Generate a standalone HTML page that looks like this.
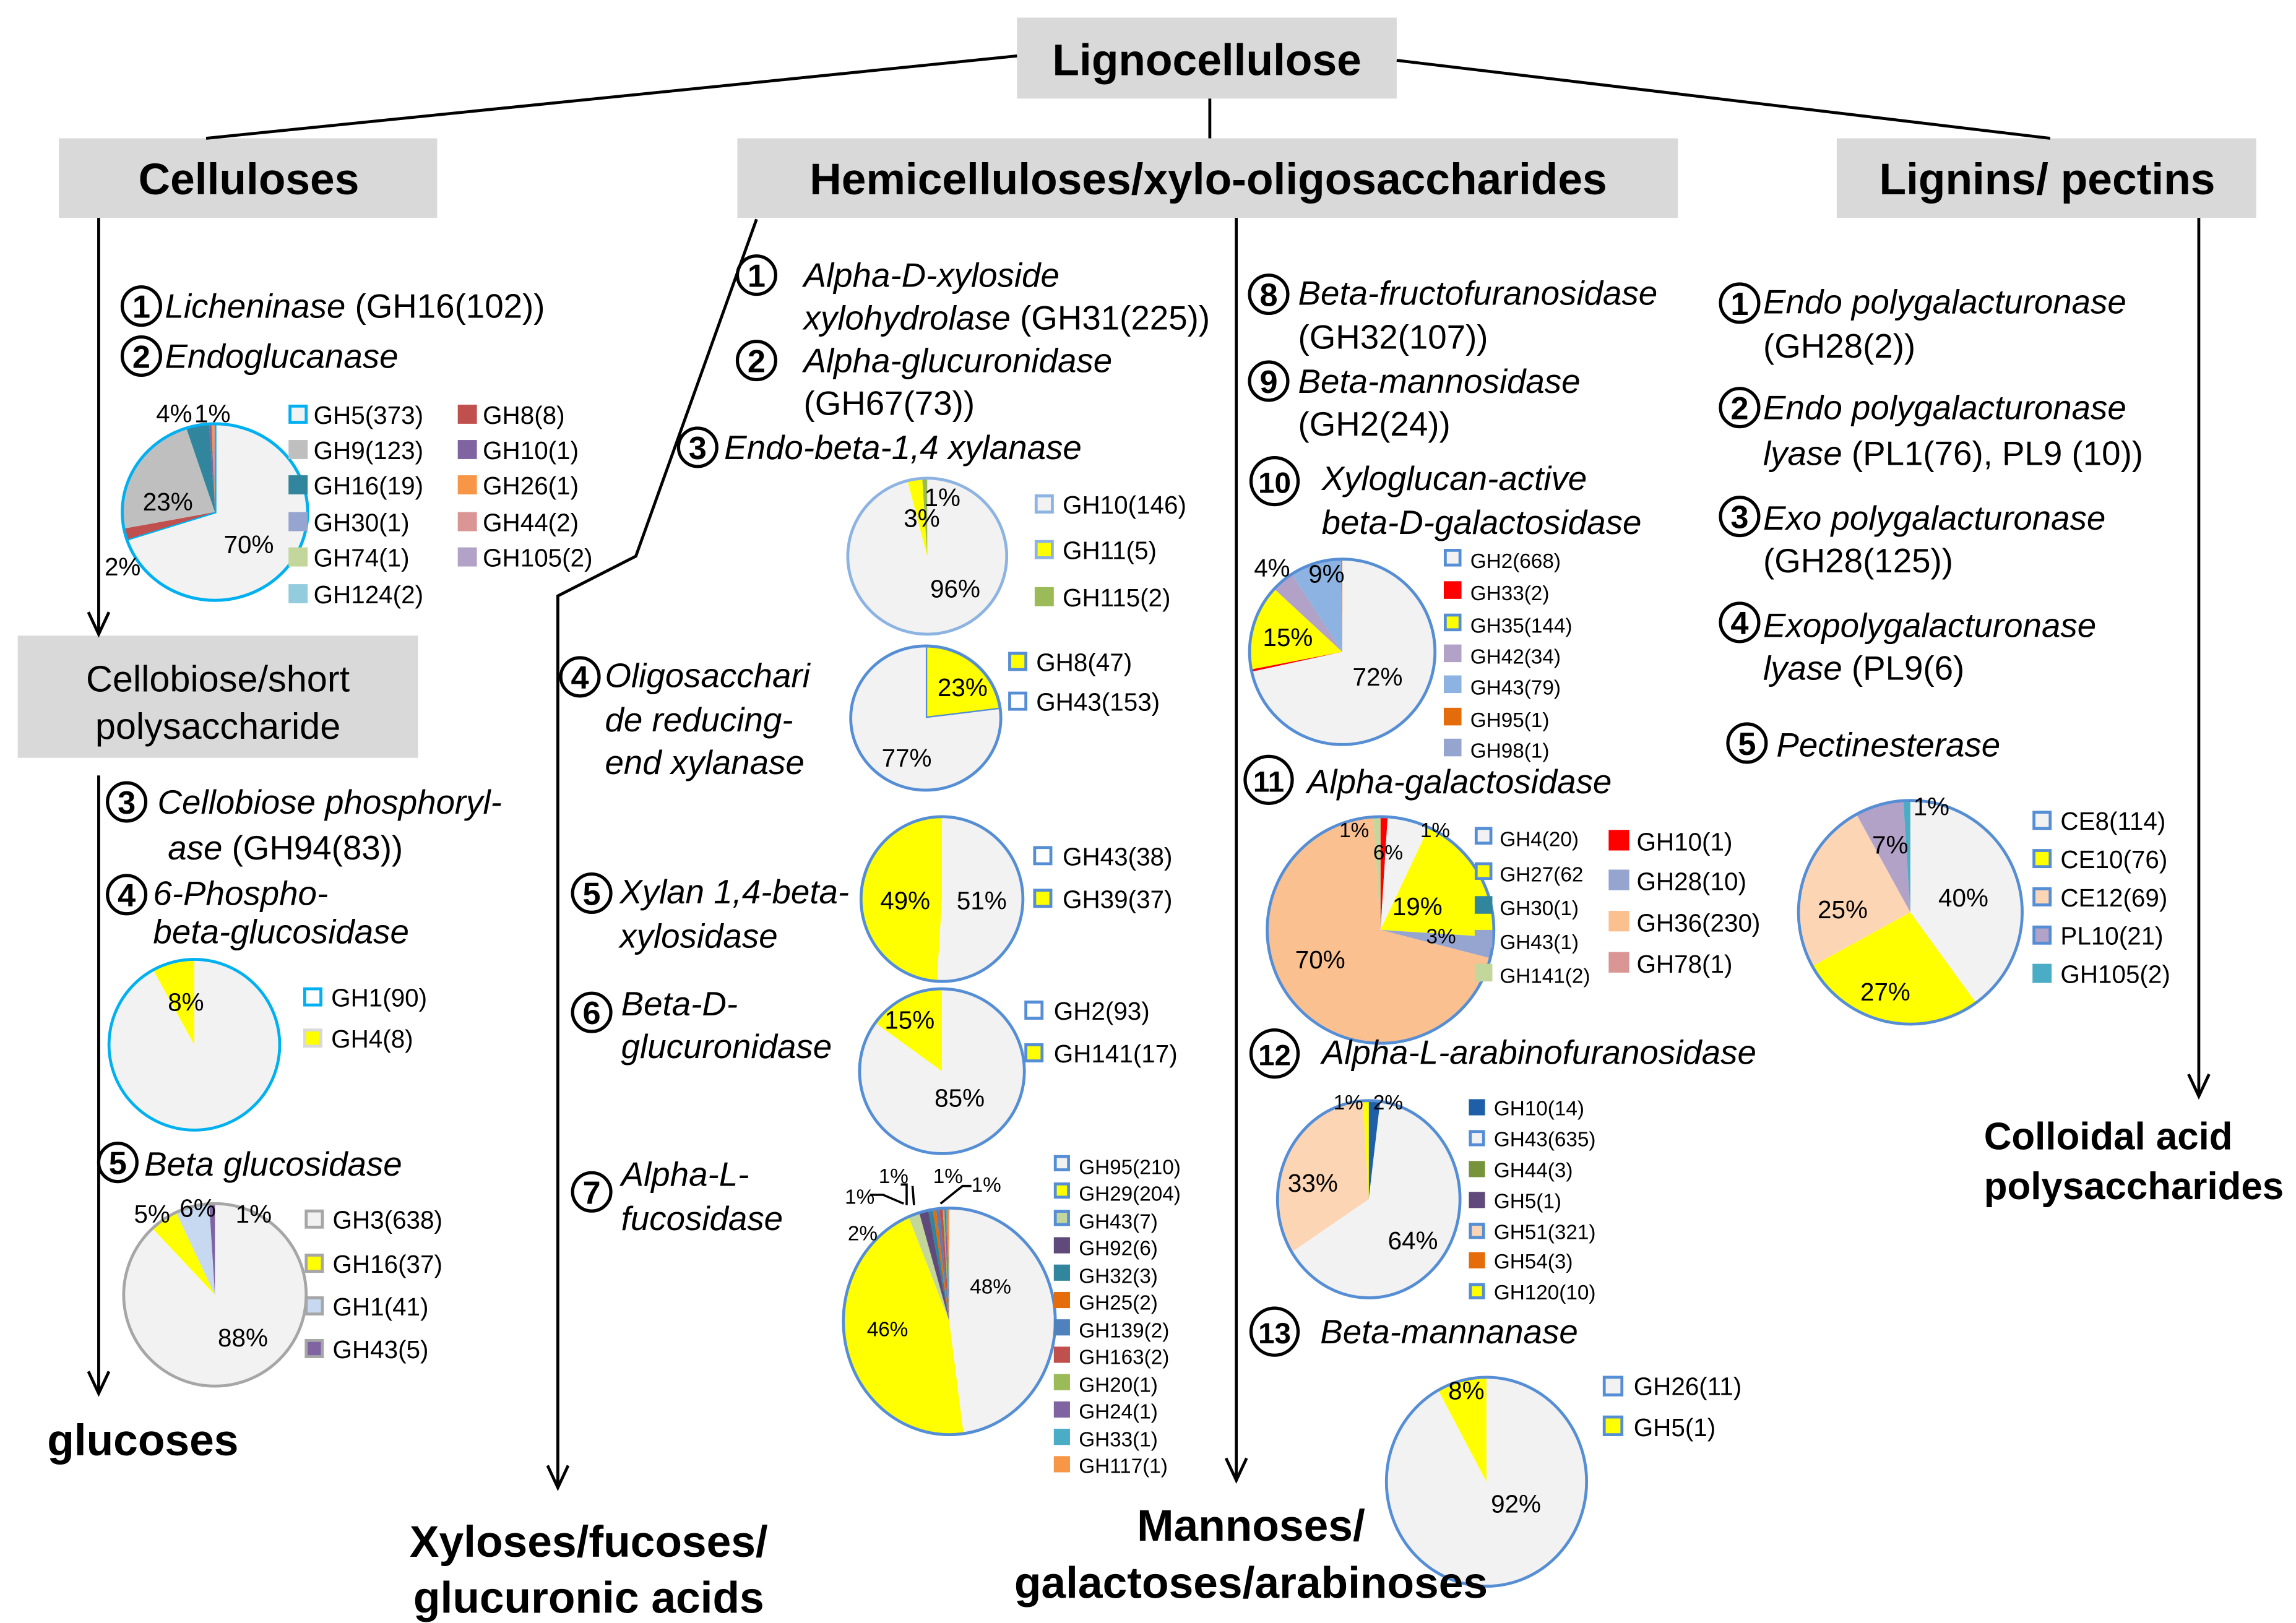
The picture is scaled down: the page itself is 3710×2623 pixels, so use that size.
<!DOCTYPE html>
<html><head><meta charset="utf-8"><style>
html,body{margin:0;padding:0;background:#fff}
svg{display:block}
text{font-family:"Liberation Sans Narrow","Liberation Sans",sans-serif;fill:#000}
.h{font-weight:bold;font-size:30px;font-family:"Liberation Sans",sans-serif}
.i{font-style:italic;font-size:23px}
.n{font-size:23px}
.l{font-size:17px}
.s{font-size:14px}
.p{font-size:17px}
.c{font-weight:bold;font-size:22px;font-family:"Liberation Sans",sans-serif}
</style></head><body>
<svg id="sv" width="3710" height="2623" viewBox="0 0 1560 1103" xmlns="http://www.w3.org/2000/svg">
<g id="pies"></g>
<!-- boxes -->
<rect x="691" y="12" width="258" height="55" fill="#d9d9d9"/>
<rect x="40" y="94" width="257" height="54" fill="#d9d9d9"/>
<rect x="501" y="94" width="639" height="54" fill="#d9d9d9"/>
<rect x="1248" y="94" width="285" height="54" fill="#d9d9d9"/>
<rect x="12" y="432" width="272" height="83" fill="#d9d9d9"/>
<text class="h" x="820" y="51" text-anchor="middle">Lignocellulose</text>
<text class="h" x="169" y="132" text-anchor="middle">Celluloses</text>
<text class="h" x="821" y="132" text-anchor="middle">Hemicelluloses/xylo-oligosaccharides</text>
<text class="h" x="1391" y="132" text-anchor="middle">Lignins/ pectins</text>
<text x="148" y="470" text-anchor="middle" style="font-size:25px">Cellobiose/short</text>
<text x="148" y="502" text-anchor="middle" style="font-size:25px">polysaccharide</text>
<!-- lines -->
<g stroke="#000" stroke-width="2" fill="none">
<line x1="691" y1="38" x2="140" y2="94"/>
<line x1="949" y1="41" x2="1393" y2="94"/>
<line x1="822" y1="67" x2="822" y2="94"/>
<line x1="67" y1="148" x2="67" y2="430"/><polyline points="60,416 67,431 74,416"/>
<line x1="67" y1="527" x2="67" y2="946"/><polyline points="60,932 67,947 74,932"/>
<polyline points="514,149 432,378 379,405 379,1010"/><polyline points="372,996 379,1011 386,996"/>
<line x1="840" y1="148" x2="840" y2="1005"/><polyline points="833,991 840,1006 847,991"/>
<line x1="1494" y1="148" x2="1494" y2="744"/><polyline points="1487,730 1494,745 1501,730"/>
</g>
<g id="circ" stroke="#000" stroke-width="2.2" fill="none"></g>
<g id="leg"></g>

<!-- Cellulose column -->
<text x="112" y="216"><tspan class="i">Licheninase</tspan><tspan class="n"> (GH16(102))</tspan></text>
<text class="i" x="112" y="250">Endoglucanase</text>
<text class="p" x="106" y="287">4%</text><text class="p" x="132" y="287">1%</text>
<text class="p" x="97" y="347">23%</text><text class="p" x="152" y="376">70%</text><text class="p" x="71" y="391">2%</text>
<text class="l" x="213" y="288">GH5(373)</text><text class="l" x="213" y="312">GH9(123)</text><text class="l" x="213" y="336">GH16(19)</text><text class="l" x="213" y="361">GH30(1)</text><text class="l" x="213" y="385">GH74(1)</text><text class="l" x="213" y="410">GH124(2)</text>
<text class="l" x="328" y="288">GH8(8)</text><text class="l" x="328" y="312">GH10(1)</text><text class="l" x="328" y="336">GH26(1)</text><text class="l" x="328" y="361">GH44(2)</text><text class="l" x="328" y="385">GH105(2)</text>
<text class="i" x="107" y="553">Cellobiose phosphoryl-</text>
<text x="114" y="584"><tspan class="i">ase</tspan><tspan class="n"> (GH94(83))</tspan></text>
<text class="i" x="104" y="615">6-Phospho-</text><text class="i" x="104" y="641">beta-glucosidase</text>
<text class="p" x="114" y="687">8%</text>
<text class="l" x="225" y="684">GH1(90)</text><text class="l" x="225" y="712">GH4(8)</text>
<text class="i" x="98" y="799">Beta glucosidase</text>
<text class="p" x="91" y="831">5%</text><text class="p" x="122" y="827">6%</text><text class="p" x="160" y="831">1%</text><text class="p" x="148" y="915">88%</text>
<text class="l" x="226" y="835">GH3(638)</text><text class="l" x="226" y="865">GH16(37)</text><text class="l" x="226" y="894">GH1(41)</text><text class="l" x="226" y="923">GH43(5)</text>
<text class="h" x="32" y="989">glucoses</text>

<!-- Hemi column -->
<text class="i" x="546" y="195">Alpha-D-xyloside</text>
<text x="546" y="224"><tspan class="i">xylohydrolase</tspan><tspan class="n">  (GH31(225))</tspan></text>
<text class="i" x="546" y="253">Alpha-glucuronidase</text>
<text class="n" x="546" y="282">(GH67(73))</text>
<text class="i" x="492" y="312">Endo-beta-1,4 xylanase</text>
<text class="p" x="628" y="344">1%</text><text class="p" x="614" y="358">3%</text><text class="p" x="632" y="406">96%</text>
<text class="l" x="722" y="349">GH10(146)</text><text class="l" x="722" y="380">GH11(5)</text><text class="l" x="722" y="412">GH115(2)</text>
<text class="i" x="411" y="467">Oligosacchari</text><text class="i" x="411" y="497">de reducing-</text><text class="i" x="411" y="526">end xylanase</text>
<text class="p" x="637" y="473">23%</text><text class="p" x="599" y="521">77%</text>
<text class="l" x="704" y="456">GH8(47)</text><text class="l" x="704" y="483">GH43(153)</text>
<text class="i" x="421" y="614">Xylan 1,4-beta-</text><text class="i" x="421" y="644">xylosidase</text>
<text class="p" x="598" y="618">49%</text><text class="p" x="650" y="618">51%</text>
<text class="l" x="722" y="588">GH43(38)</text><text class="l" x="722" y="617">GH39(37)</text>
<text class="i" x="422" y="690">Beta-D-</text><text class="i" x="422" y="719">glucuronidase</text>
<text class="p" x="601" y="699">15%</text><text class="p" x="635" y="752">85%</text>
<text class="l" x="716" y="693">GH2(93)</text><text class="l" x="716" y="722">GH141(17)</text>
<text class="i" x="422" y="806">Alpha-L-</text><text class="i" x="422" y="836">fucosidase</text>
<text class="s" x="574" y="818">1%</text><text class="s" x="597" y="804">1%</text><text class="s" x="634" y="804">1%</text><text class="s" x="660" y="810">1%</text><text class="s" x="576" y="843">2%</text>
<text class="s" x="589" y="908">46%</text><text class="s" x="659" y="879">48%</text>
<g stroke="#000" stroke-width="1.5" fill="none"><polyline points="591,812 600,812 614,818"/><polyline points="612,805 616,805 616,819"/><line x1="620" y1="806" x2="621" y2="819"/><polyline points="660,806 654,806 639,818"/></g>
<g class="s">
<text class="s" x="733" y="798">GH95(210)</text><text class="s" x="733" y="816">GH29(204)</text><text class="s" x="733" y="835">GH43(7)</text><text class="s" x="733" y="853">GH92(6)</text><text class="s" x="733" y="872">GH32(3)</text><text class="s" x="733" y="890">GH25(2)</text><text class="s" x="733" y="909">GH139(2)</text><text class="s" x="733" y="927">GH163(2)</text><text class="s" x="733" y="946">GH20(1)</text><text class="s" x="733" y="964">GH24(1)</text><text class="s" x="733" y="983">GH33(1)</text><text class="s" x="733" y="1001">GH117(1)</text>
</g>
<text class="h" x="400" y="1058" text-anchor="middle">Xyloses/fucoses/</text>
<text class="h" x="400" y="1096" text-anchor="middle">glucuronic acids</text>

<!-- Middle column -->
<text class="i" x="882" y="207">Beta-fructofuranosidase</text><text class="n" x="882" y="237">(GH32(107))</text>
<text class="i" x="882" y="267">Beta-mannosidase</text><text class="n" x="882" y="296">(GH2(24))</text>
<text class="i" x="898" y="333">Xyloglucan-active</text><text class="i" x="898" y="363">beta-D-galactosidase</text>
<text class="p" x="852" y="392">4%</text><text class="p" x="889" y="396">9%</text><text class="p" x="858" y="439">15%</text><text class="p" x="919" y="466">72%</text>
<text class="s" x="999" y="386">GH2(668)</text><text class="s" x="999" y="408">GH33(2)</text><text class="s" x="999" y="430">GH35(144)</text><text class="s" x="999" y="451">GH42(34)</text><text class="s" x="999" y="472">GH43(79)</text><text class="s" x="999" y="494">GH95(1)</text><text class="s" x="999" y="515">GH98(1)</text>
<text class="i" x="888" y="539">Alpha-galactosidase</text>
<text class="s" x="910" y="569">1%</text><text class="s" x="965" y="569">1%</text><text class="s" x="933" y="584">6%</text><text class="p" x="946" y="622">19%</text><text class="s" x="969" y="641">3%</text><text class="p" x="880" y="658">70%</text>
<text class="s" x="1019" y="575">GH4(20)</text><text class="s" x="1019" y="599">GH27(62</text><text class="s" x="1019" y="622">GH30(1)</text><text class="s" x="1019" y="645">GH43(1)</text><text class="s" x="1019" y="668">GH141(2)</text>
<text class="l" x="1112" y="578">GH10(1)</text><text class="l" x="1112" y="605">GH28(10)</text><text class="l" x="1112" y="633">GH36(230)</text><text class="l" x="1112" y="661">GH78(1)</text>
<text class="i" x="898" y="723">Alpha-L-arabinofuranosidase</text>
<text class="s" x="906" y="754">1%</text><text class="s" x="933" y="754">2%</text><text class="p" x="875" y="810">33%</text><text class="p" x="943" y="849">64%</text>
<text class="s" x="1015" y="758">GH10(14)</text><text class="s" x="1015" y="779">GH43(635)</text><text class="s" x="1015" y="800">GH44(3)</text><text class="s" x="1015" y="821">GH5(1)</text><text class="s" x="1015" y="842">GH51(321)</text><text class="s" x="1015" y="862">GH54(3)</text><text class="s" x="1015" y="883">GH120(10)</text>
<text class="i" x="897" y="913">Beta-mannanase</text>
<text class="p" x="984" y="951">8%</text><text class="p" x="1013" y="1028">92%</text>
<text class="l" x="1110" y="948">GH26(11)</text><text class="l" x="1110" y="976">GH5(1)</text>
<text class="h" x="850" y="1047" text-anchor="middle">Mannoses/</text>
<text class="h" x="850" y="1086" text-anchor="middle">galactoses/arabinoses</text>

<!-- Right column -->
<text class="i" x="1198" y="213">Endo polygalacturonase</text><text class="n" x="1198" y="243">(GH28(2))</text>
<text class="i" x="1198" y="285">Endo polygalacturonase</text>
<text x="1198" y="316"><tspan class="i">lyase</tspan><tspan class="n"> (PL1(76), PL9 (10))</tspan></text>
<text class="i" x="1198" y="360">Exo polygalacturonase</text><text class="n" x="1198" y="389">(GH28(125))</text>
<text class="i" x="1198" y="433">Exopolygalacturonase</text>
<text x="1198" y="462"><tspan class="i">lyase</tspan><tspan class="n"> (PL9(6)</tspan></text>
<text class="i" x="1207" y="514">Pectinesterase</text>
<text class="p" x="1300" y="554">1%</text><text class="p" x="1272" y="580">7%</text><text class="p" x="1235" y="624">25%</text><text class="p" x="1317" y="616">40%</text><text class="p" x="1264" y="680">27%</text>
<text class="l" x="1400" y="564">CE8(114)</text><text class="l" x="1400" y="590">CE10(76)</text><text class="l" x="1400" y="616">CE12(69)</text><text class="l" x="1400" y="642">PL10(21)</text><text class="l" x="1400" y="668">GH105(2)</text>
<text class="c" x="1348" y="781" style="font-size:26px">Colloidal acid</text>
<text class="c" x="1348" y="815" style="font-size:26px">polysaccharides</text>

<g id="nums"></g>
</svg>
<script>
(function(){
var NS="http://www.w3.org/2000/svg";
function el(p,t,a){var e=document.createElementNS(NS,t);for(var k in a)e.setAttribute(k,a[k]);p.appendChild(e);return e;}
var L="#f2f2f2",Y="#ffff00";
var pies=document.getElementById("pies");
function pie(cx,cy,rx,ry,st,sl){
 var a=0,tot=0;sl.forEach(function(s){tot+=s[0];});
 sl.forEach(function(s){
  var f=s[0]/tot,a2=a+f*2*Math.PI;
  var x1=cx+rx*Math.sin(a),y1=cy-ry*Math.cos(a),x2=cx+rx*Math.sin(a2),y2=cy-ry*Math.cos(a2);
  var lg=f>0.5?1:0;
  el(pies,"path",{d:"M"+cx+","+cy+" L"+x1+","+y1+" A"+rx+","+ry+" 0 "+lg+" 1 "+x2+","+y2+" Z",fill:s[1],stroke:s[2]||"none","stroke-width":s[2]?2:0});
  a=a2;});
 el(pies,"ellipse",{cx:cx,cy:cy,rx:rx,ry:ry,fill:"none",stroke:st,"stroke-width":2});
}
pie(146,348,63,60,"#00b0f0",[[70,L,"#00b0f0"],[2,"#c0504d"],[23,"#bfbfbf"],[4,"#31859c"],[0.4,"#8064a2"],[0.3,"#f79646"],[0.3,"#d99694"]]);
pie(132,710,58,58,"#00b0f0",[[92,L],[8,Y]]);
pie(146,880,62,62,"#a6a6a6",[[88,L],[5,Y],[6,"#c6d9f1"],[1,"#8064a2"]]);
pie(630,378,54,53,"#8db3e2",[[96,L],[3,Y],[1,"#9bbb59"]]);
pie(629,488,51,49,"#558ed5",[[23,Y,"#558ed5"],[77,L]]);
pie(640,611,55,56,"#558ed5",[[51,L],[49,Y]]);
pie(640,728,56,56,"#558ed5",[[85,L],[15,Y]]);
pie(645,898,72,77,"#558ed5",[[48,L],[46,Y],[1.7,"#c3d69b"],[1.4,"#604a7b"],[0.7,"#31859c"],[0.5,"#e46c0a"],[0.5,"#4f81bd"],[0.5,"#c0504d"],[0.25,"#9bbb59"],[0.25,"#8064a2"],[0.25,"#4bacc6"],[0.25,"#f79646"]]);
pie(912,443,63,63,"#558ed5",[[72,L],[0.4,"#ff0000"],[15,Y],[4,"#b3a2c7"],[9,"#8db3e2"],[0.2,"#e46c0a"]]);
pie(938,632,77,77,"#558ed5",[[1,"#ff0000"],[6,L],[19,Y],[3,"#95a5d0"],[70,"#fac090"],[1,"#c3d69b"]]);
pie(930,815,62,67,"#558ed5",[[2,"#1f5fa8"],[64,L],[33,"#fcd5b5"],[1,Y]]);
pie(1010,1007,68,71,"#558ed5",[[92,L],[8,Y]]);
pie(1298,620,76,76,"#558ed5",[[40,L],[27,Y],[25,"#fcd5b5"],[7,"#b3a2c7"],[1,"#4bacc6"]]);
// legend squares
var lg=document.getElementById("leg");
function sq(x,y,f,s,w){el(lg,"rect",{x:x,y:y,width:w||11,height:w||11,fill:f,stroke:s||f,"stroke-width":2});}
var c1=[[L,"#00b0f0"],["#bfbfbf"],["#31859c"],["#95a5d0"],["#c3d69b"],["#93cddd"]],ys=[281,305,329,354,378,403];
c1.forEach(function(c,i){sq(197,ys[i]-5,c[0],c[1]);});
["#c0504d","#8064a2","#f79646","#d99694","#b3a2c7"].forEach(function(c,i){sq(312,ys[i]-5,c);});
sq(207,672,"#fff","#00b0f0");sq(207,700,Y,"#d9d9d9");
[[L,"#a6a6a6"],[Y,"#a6a6a6"],["#c6d9f1","#a6a6a6"],["#8064a2","#a6a6a6"]].forEach(function(c,i){sq(208,[823,853,882,911][i],c[0],c[1]);});
[[L,"#8db3e2"],[Y,"#8db3e2"],["#9bbb59"]].forEach(function(c,i){sq(704,[337,368,400][i],c[0],c[1]);});
sq(686,444,Y,"#558ed5");sq(686,471,"#fff","#558ed5");
sq(703,576,"#fff","#558ed5");sq(703,605,Y,"#558ed5");
sq(697,681,"#fff","#558ed5");sq(697,710,Y,"#558ed5");
var fc=[[L,"#558ed5"],[Y,"#558ed5"],["#c3d69b","#558ed5"],["#604a7b"],["#31859c"],["#e46c0a"],["#4f81bd"],["#c0504d"],["#9bbb59"],["#8064a2"],["#4bacc6"],["#f79646"]];
fc.forEach(function(c,i){sq(717,786+i*18.6,c[0],c[1],9);});
var xc=[[L,"#558ed5"],["#ff0000"],[Y,"#558ed5"],["#b3a2c7"],["#8db3e2"],["#e46c0a"],["#95a5d0"]];
xc.forEach(function(c,i){sq(982,[375,397,419,440,461,483,504][i]-1,c[0],c[1],10);});
var gc1=[[L,"#558ed5"],[Y,"#558ed5"],["#31859c"],["#95a5d0"],["#c3d69b"]];
gc1.forEach(function(c,i){sq(1003,[564,588,611,634,657][i]-1,c[0],c[1],10);});
var gc2=[["#ff0000"],["#95a5d0"],["#fac090"],["#d99694"]];
gc2.forEach(function(c,i){sq(1094,[566,593,621,649][i]-1,c[0],c[1],12);});
var ac=[["#1f5fa8"],[L,"#558ed5"],["#77933c"],["#604a7b"],["#fcd5b5","#558ed5"],["#e46c0a"],[Y,"#558ed5"]];
ac.forEach(function(c,i){sq(999,[748,769,790,811,832,852,873][i],c[0],c[1],9);});
sq(1090,936,L,"#558ed5",12);sq(1090,963,Y,"#558ed5",12);
[[L,"#558ed5"],[Y,"#558ed5"],["#fcd5b5","#558ed5"],["#b3a2c7","#558ed5"],["#4bacc6"]].forEach(function(c,i){sq(1382,[552,578,604,630,656][i],c[0],c[1]);});
// circled numbers
var cg=document.getElementById("circ"),ng=document.getElementById("nums");
[[96,208,1],[96,242,2],[86,545,3],[86,608,4],[80,790,5],[514,187,1],[514,245,2],[474,304,3],[394,460,4],[402,607,5],[402,688,6],[402,810,7],[862,200,8],[862,259,9],[866,327,10],[862,530,11],[866,716,12],[866,905,13],[1182,206,1],[1182,277,2],[1182,351,3],[1182,423,4],[1187,505,5]].forEach(function(c){
 var r=c[2]>9?16:13;el(cg,"circle",{cx:c[0],cy:c[1],r:r});
 var t=el(ng,"text",{x:c[0],y:c[1]+8,"text-anchor":"middle",style:"font-weight:bold;font-size:"+(c[2]>9?20:22)+"px;font-family:'Liberation Sans',sans-serif"});t.textContent=c[2];});
})();
</script>
</body></html>
